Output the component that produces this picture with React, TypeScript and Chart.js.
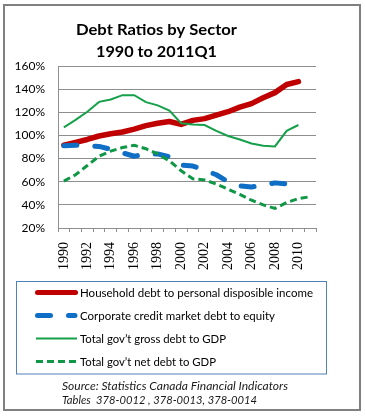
import React, { useEffect, useRef } from "react";
import { Chart, registerables } from "chart.js";

Chart.register(...registerables);

const years = [
  "1990", "1991", "1992", "1993", "1994", "1995", "1996", "1997", "1998", "1999", "2000",
  "2001", "2002", "2003", "2004", "2005", "2006", "2007", "2008", "2009", "2010", "2011",
];

const householdDebt = [91.5, 94, 96.5, 99.5, 101.5, 103, 105.5, 108.5, 110.5, 112, 109.5, 113, 114.5, 117.5, 120.5, 124.5, 127.5, 132.5, 137, 144, 146.5, null];
const corporateDebt = [91, 91.5, 91, 90.5, 88, 85, 82, 84, 84, 81.5, 74.5, 73.5, 70, 66, 60, 56.5, 55.5, 57, 59, 58, null, null];
const grossGovDebt = [107, 113.5, 120.5, 129, 131, 134.8, 134.8, 128.8, 126, 121.5, 110.5, 109.5, 109, 104, 99.5, 96.5, 93, 91, 90.5, 104, 109, null];
const netGovDebt = [60.5, 66, 74, 82, 86.5, 89.5, 91.5, 88.5, 84, 78, 69.5, 62.5, 61.5, 58, 53.5, 49, 44, 40, 37, 42, 45.5, 47];

const seriesNames = [
  "Household debt to personal disposible income",
  "Corporate credit market debt to equity",
  "Total gov\u2019t gross debt to GDP",
  "Total gov\u2019t net debt to GDP",
];

const titleLines = ["Debt Ratios by Sector", "1990 to 2011Q1"];
const sourceLines = ["Source: Statistics Canada Financial Indicators", "Tables  378-0012 , 378-0013, 378-0014"];

const RED = "#c00000";
const BLUE = "#0f6fc6";
const GREEN = "#15a049";
const GREEN2 = "#0e9744";
const GRID = "#8e8e8e";

function fitText(ctx: CanvasRenderingContext2D, text: string, left: number, baseline: number, width: number, font: string, color: string) {
  ctx.save();
  ctx.font = font;
  ctx.fillStyle = color;
  ctx.textAlign = "left";
  ctx.textBaseline = "alphabetic";
  const w = ctx.measureText(text).width;
  ctx.translate(left, baseline);
  ctx.scale(width / w, 1);
  ctx.fillText(text, 0, 0);
  ctx.restore();
}

const decorPlugin = {
  id: "decor",
  beforeDraw(chart: any) {
    const ctx = chart.ctx as CanvasRenderingContext2D;
    ctx.save();
    ctx.fillStyle = "#ffffff";
    ctx.fillRect(0, 0, chart.width, chart.height);
    ctx.restore();
  },
  afterDraw(chart: any) {
    const ctx = chart.ctx as CanvasRenderingContext2D;
    // frame
    ctx.save();
    ctx.strokeStyle = "#808080";
    ctx.lineWidth = 2;
    ctx.strokeRect(4, 5, 356, 405);
    ctx.restore();

    // title
    fitText(ctx, titleLines[0], 76, 35, 161, "bold 16px Lato", "#000");
    fitText(ctx, titleLines[1], 96, 57, 121, "bold 16px Lato", "#000");

    // legend box
    ctx.save();
    ctx.strokeStyle = "#4f81bd";
    ctx.lineWidth = 1;
    ctx.strokeRect(16.5, 281.5, 310, 92.5);
    ctx.restore();

    const rows = [292.5, 315.5, 338.5, 361.5];
    const widths = [233, 195, 146, 136];
    const styles = [
      { color: RED, width: 5, dash: [] as number[], cap: "round" as CanvasLineCap, x0: 37.5, x1: 75.5 },
      { color: BLUE, width: 5, dash: [13, 18], cap: "round" as CanvasLineCap, x0: 37.5, x1: 75 },
      { color: GREEN, width: 2, dash: [] as number[], cap: "butt" as CanvasLineCap, x0: 36, x1: 77 },
      { color: GREEN2, width: 3, dash: [7, 4], cap: "butt" as CanvasLineCap, x0: 36, x1: 77 },
    ];
    rows.forEach((y, i) => {
      const s = styles[i];
      ctx.save();
      ctx.strokeStyle = s.color;
      ctx.lineWidth = s.width;
      ctx.lineCap = s.cap;
      ctx.setLineDash(s.dash);
      ctx.beginPath();
      ctx.moveTo(s.x0, y);
      ctx.lineTo(s.x1, y);
      ctx.stroke();
      ctx.restore();
      fitText(ctx, seriesNames[i], 80, y + 4.5, widths[i], "12px Lato", "#000");
    });

    // source
    fitText(ctx, sourceLines[0], 62, 390, 226, "italic 11.5px Lato", "#1a1a1a");
    fitText(ctx, sourceLines[1], 62, 404, 195, "italic 11.5px Lato", "#1a1a1a");
  },
};

export default function App() {
  const ref = useRef<HTMLCanvasElement | null>(null);

  useEffect(() => {
    if (!ref.current) return;
    const chart = new Chart(ref.current, {
      type: "line",
      data: {
        labels: years,
        datasets: [
          {
            label: seriesNames[0],
            data: householdDebt,
            borderColor: RED,
            borderWidth: 5.5,
            borderCapStyle: "round",
            borderJoinStyle: "round",
            pointRadius: 0,
            tension: 0,
            order: 3,
          },
          {
            label: seriesNames[1],
            data: corporateDebt,
            borderColor: BLUE,
            borderWidth: 5,
            borderDash: [13, 18],
            borderCapStyle: "round",
            borderJoinStyle: "round",
            pointRadius: 0,
            tension: 0,
            order: 2,
          },
          {
            label: seriesNames[2],
            data: grossGovDebt,
            borderColor: GREEN,
            borderWidth: 2,
            pointRadius: 0,
            tension: 0,
            order: 1,
          },
          {
            label: seriesNames[3],
            data: netGovDebt,
            borderColor: GREEN2,
            borderWidth: 3,
            borderDash: [7, 4],
            pointRadius: 0,
            tension: 0,
            order: 0,
          },
        ],
      },
      options: {
        animation: false,
        responsive: false,
        devicePixelRatio: 1,
        layout: { padding: { left: 0, right: 49, top: 66, bottom: 0 } },
        plugins: {
          legend: { display: false },
          title: { display: false },
          tooltip: { enabled: false },
        },
        scales: {
          x: {
            type: "category",
            offset: true,
            grid: {
              offset: true,
              drawOnChartArea: false,
              drawTicks: true,
              tickLength: 4,
              color: GRID,
            },
            border: { display: true, color: GRID },
            ticks: {
              autoSkip: false,
              maxRotation: 90,
              minRotation: 90,
              padding: 10,
              color: "#000",
              font: { family: "Liberation Serif", size: 14 },
              callback: (_v: any, i: number) => (i % 2 === 0 && i <= 20 ? years[i] : ""),
            },
            afterFit: (scale: any) => {
              scale.height = 189;
            },
          },
          y: {
            min: 20,
            max: 160,
            grid: { color: GRID, drawTicks: false },
            border: { display: true, color: GRID },
            ticks: {
              stepSize: 20,
              padding: 13,
              color: "#000",
              font: { family: "Lato", size: 12 },
              callback: (v: any) => v + "%",
            },
            afterFit: (scale: any) => {
              scale.width = 58;
            },
          },
        },
      },
      plugins: [decorPlugin],
    });
    return () => chart.destroy();
  }, []);

  return (
    <div style={{ position: "absolute", left: 0, top: 0, width: 365, height: 417, background: "#fff" }}>
      <canvas ref={ref} width={365} height={417} style={{ display: "block", width: 365, height: 417 }} />
    </div>
  );
}
